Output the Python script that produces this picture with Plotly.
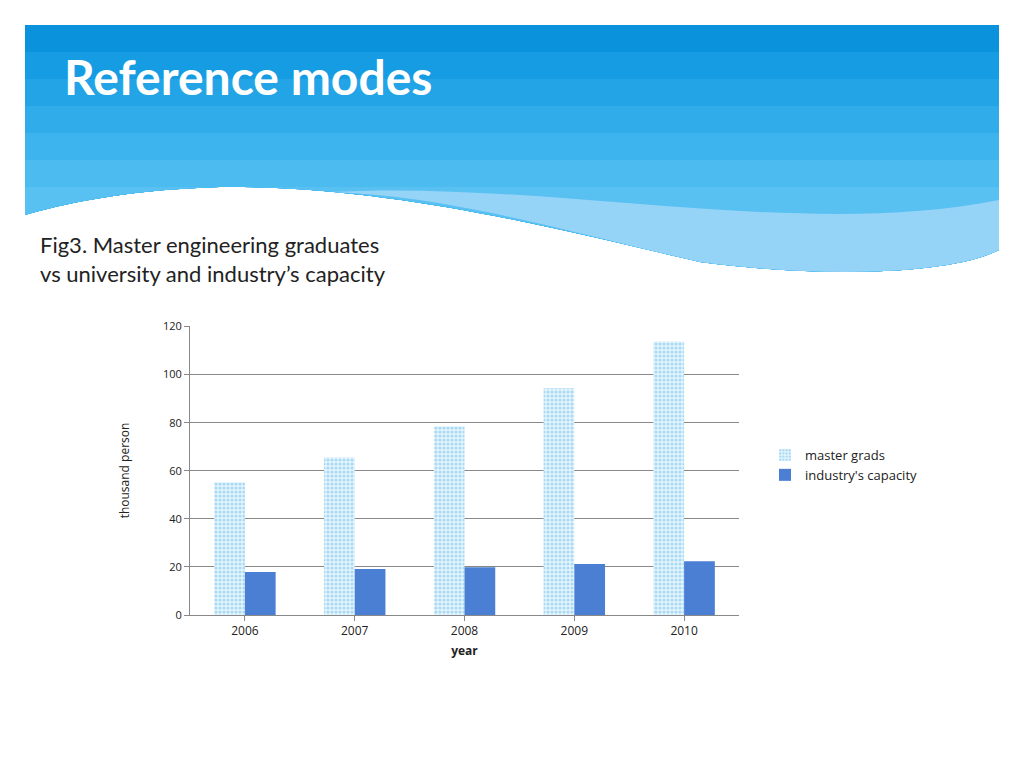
import plotly.graph_objects as go

years = ["2006", "2007", "2008", "2009", "2010"]
master_grads = [55.2, 65.6, 78.5, 94.3, 113.8]
industry_capacity = [17.9, 19.1, 19.9, 21.2, 22.4]

# page body adds 8px, so work in page pixels minus 8
OFF = 8
L, R, T, B = 190 - OFF, 739 - OFF, 326 - OFF, 615 - OFF
def px(x): return (x - OFF - L) / (R - L)
def py(y): return (B - (y - OFF)) / (B - T)

fig = go.Figure()
fig.add_trace(go.Bar(x=years, y=master_grads, name="master grads",
                     marker=dict(color="white", line=dict(width=0),
                                 pattern=dict(shape=".", fgcolor="#6cc0ec", bgcolor="#e6f5fc", size=4, solidity=0.5))))
fig.add_trace(go.Bar(x=years, y=industry_capacity, name="industry's capacity",
                     marker=dict(color="#4a7fd4", line=dict(width=0))))

# header band: stacked bands to fake the gradient, bottom edge is a wave
def band_path(top):
    d = "M {},{} L {},{} L {},{} C {},{} {},{} {},{}".format(
        px(25), py(top), px(999), py(top), px(999), py(250),
        px(950), py(275), px(820), py(278), px(700), py(262))
    d += " C {},{} {},{} {},{}".format(px(580), py(235), px(400), py(185), px(220), py(187))
    d += " C {},{} {},{} {},{} Z".format(px(120), py(190), px(60), py(205), px(25), py(215))
    return d

colors = ["#0a93dc", "#169ce2", "#22a4e6", "#30acea", "#3db4ed", "#4bbbf0", "#58c1f2"]
for i, c in enumerate(colors):
    fig.add_shape(type="path", path=band_path(25 + i * 27), xref="paper", yref="paper",
                  fillcolor=c, line=dict(width=0), layer="below")
# lighter wave band
fig.add_shape(type="path", xref="paper", yref="paper", layer="below", line=dict(width=0),
              fillcolor="rgba(160,215,248,0.85)",
              path="M {},{} C {},{} {},{} {},{} L {},{} C {},{} {},{} {},{} C {},{} {},{} {},{} Z".format(
                  px(330), py(192), px(550), py(180), px(800), py(240), px(999), py(200),
                  px(999), py(250), px(950), py(275), px(820), py(278), px(700), py(262),
                  px(580), py(235), px(450), py(195), px(330), py(192)))

fig.add_annotation(text="<b>Reference modes</b>", xref="paper", yref="paper", x=px(62), y=py(76),
                   xanchor="left", yanchor="middle", showarrow=False,
                   font=dict(family="Lato", size=48, color="white"))
fig.add_annotation(text="Fig3. Master engineering graduates<br>vs university and industry’s capacity",
                   xref="paper", yref="paper", x=px(38), y=py(259), xanchor="left", yanchor="middle",
                   align="left", showarrow=False, font=dict(family="Lato", size=22, color="#222"))

fig.update_layout(
    width=1024, height=768, margin=dict(l=L, r=1024 - R, t=T, b=768 - B),
    paper_bgcolor="white", plot_bgcolor="white", bargap=0.44, bargroupgap=0,
    font=dict(family="Open Sans", color="#222"),
    legend=dict(x=px(765), y=py(440), xanchor="left", yanchor="top", tracegroupgap=68,
                font=dict(size=13), traceorder="normal", groupclick="toggleitem"),
    xaxis=dict(title=dict(text="<b>year</b>", font=dict(size=12), standoff=8), showline=True,
               linecolor="#888", ticks="outside", tickcolor="#888", tickfont=dict(size=12)),
    yaxis=dict(title=dict(text="thousand person", font=dict(size=12), standoff=30),
               range=[0, 120.2], dtick=20, gridcolor="#888", showline=True, linecolor="#888",
               ticks="outside", tickcolor="#888", tickfont=dict(size=11), zeroline=False),
)
fig.data[0].legendgroup = "a"
fig.data[1].legendgroup = "b"
fig.write_html("out.html")
